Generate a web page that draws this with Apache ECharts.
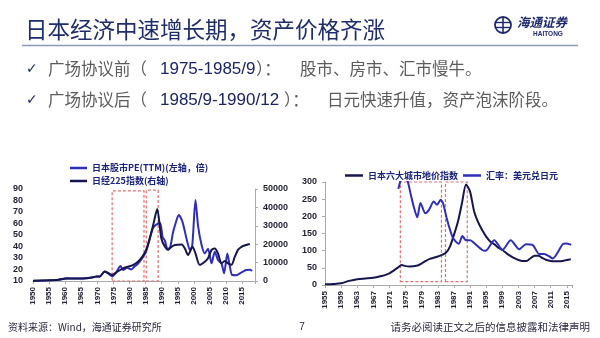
<!DOCTYPE html>
<html><head><meta charset="utf-8">
<script src="https://cdn.jsdelivr.net/npm/echarts@6/dist/echarts.min.js"></script>
<style>html,body{margin:0;padding:0;background:#fff}#c{width:600px;height:338px}</style>
</head><body><div id="c"></div>
<script>
// ---- texts ----
const titleText = '日本经济中速增长期，资产价格齐涨';
const bullet1 = ['广场协议前（', '1975-1985/9', '）：', '股市、房市、汇市慢牛。'];
const bullet2 = ['广场协议后（', '1985/9-1990/12', '）：', '日元快速升值，资产泡沫阶段。'];
const sourceText = '资料来源：Wind，海通证券研究所';
const pageNo = '7';
const disclaimer = '请务必阅读正文之后的信息披露和法律声明';

// ---- left chart: PE (left axis) and Nikkei 225 (right axis) ----
const leftNames = ['日本股市PE(TTM)(左轴，倍)', '日经225指数(右轴)'];
const peYears = [1950,1952,1955,1958,1960.4,1963.5,1966.6,1968.7,1969.7,1970.7,1972.3,1973.5,1974.6,1975.6,1977.2,1978,1979.3,1980.5,1981.5,1982.6,1984.1,1985.2,1986.2,1987.3,1988.3,1989.5,1990.3,1991,1991.8,1992.6,1993.5,1994.3,1995.3,1996.5,1997.7,1998.8,1999.5,2000.5,2001.3,2002.4,2003.4,2004.4,2005.5,2006.5,2007.5,2008.6,2009.4,2010.4,2011.1,2011.9,2013.2,2014.8,2016.3,2017.5,2018.1];
const peValues = [10,10.3,10.6,11.2,12.3,12.2,12.4,13.2,14,13.8,18.3,16.3,14.2,16.5,23,19.6,21.5,20,22.5,25,30.5,36,46,56,59,60.5,48,45,38,39,52,60,67.4,61,47,37,41,80.4,58,41.3,34,38,25.4,35.5,28.3,25,16.7,34,24,15.2,15,17.5,19.6,19.8,18.7];
const nkYears = [1950,1955,1958,1960.4,1963.5,1966.6,1968.7,1969.7,1970.7,1972.3,1973.5,1974.6,1975.8,1978,1979.5,1981,1982.6,1984.1,1985.2,1986.2,1987.3,1988.6,1989.9,1991,1992,1993,1994.1,1996.2,1997.2,1998.2,1999.6,2000.5,2001.8,2003.4,2004.4,2005.5,2006.5,2007.5,2008.6,2009.6,2010.6,2011.7,2012.7,2013.7,2014.8,2016.3,2017.4];
const nkValues = [150,400,700,1400,1350,1450,2000,2500,2400,5200,4200,3300,4600,6900,7800,8600,10400,13500,17000,22500,30000,39100,23100,18600,16900,18500,19600,19900,17700,14100,18600,15000,8800,10500,12300,16900,17700,15000,9600,10900,9600,8800,13100,16900,18600,19600,20100];
const leftBoxes = [[1974.6, 1984.5, 10, 88.3], [1985.2, 1988.9, 10, 89]];

// ---- right chart: land price index and USD/JPY ----
const rightNames = ['日本六大城市地价指数', '汇率：美元兑日元'];
const landYears = [1955,1957,1959,1961,1963,1965,1967,1969,1971,1973,1974,1975,1976,1978,1979,1980,1981,1983,1985,1986,1987,1988,1989,1990,1991,1992,1993,1994,1995,1996,1997,1998,1999,2000,2001,2002,2003,2004,2005,2006,2007,2008,2009,2010,2011,2012,2013,2014,2015,2016];
const landValues = [2,3,5,12,17,19,21,26,34,50,58,55,54,57,63,70,76,83,94,112,146,185,239,293,272,215,183,160,141,127,119,109,102,93,85,78,73,70,70,78,85,85,78,73,70,69,69,70,73,75];
const fxYears = [1973.2,1974,1974.8,1975.5,1976.2,1977,1977.9,1978.7,1979.9,1980.8,1982,1982.8,1983.7,1984.3,1985.3,1986.6,1987.4,1988.2,1989.1,1989.9,1991.2,1992,1994,1994.9,1997,1998.6,1999,2001.1,2003.2,2004.9,2006.5,2008.2,2009.4,2010.7,2011.5,2014,2014.8,2016.1];
const fxValues = [280,312,316,303,268,229,197,239,209,219,243,234,248,238,190,141,127,120,143,131,130,122,102,100,130,107,102,130,104,119,117,90,90,83,77,119,121,117];
const rightBoxes = [[1973.7, 1983.9, 10, 300], [1984.9, 1990.3, 10, 300]];

const zip = (xs, ys) => xs.map((x, i) => [x, ys[i]]);
const CJK = "'Noto Sans CJK SC'";
const NUM = "'Liberation Sans', Arial";
const DARK = '#16164e';
const BLUE = '#2e2eb8';
const NAVY = '#1f2d6b';
const boxStyle = {color: 'rgba(0,0,0,0)', borderColor: '#e07070', borderWidth: 1.2, borderType: [3, 2]};
const toAreas = boxes => boxes.map(b => [{xAxis: b[0], yAxis: b[2]}, {xAxis: b[1], yAxis: b[3]}]);

const axisLabelStyle = {color: '#1e1e30', fontFamily: NUM, fontWeight: 'bold'};
const plain = v => String(v);

const chart = echarts.init(document.getElementById('c'));
const g = [];
g.push({type: 'text', x: 25, y: 29, style: {text: titleText, font: `22.5px ${CJK}`, fill: NAVY, verticalAlign: 'middle'}});
g.push({type: 'line', shape: {x1: 22, y1: 45.5, x2: 578, y2: 45.5}, style: {stroke: '#8c9bb5', lineWidth: 1.5}});
// logo
g.push({type: 'circle', shape: {cx: 503, cy: 25, r: 8}, style: {fill: 'none', stroke: '#1e2a6e', lineWidth: 1.8}});
g.push({type: 'line', shape: {x1: 503, y1: 17, x2: 503, y2: 33}, style: {stroke: '#1e2a6e', lineWidth: 1.6}});
g.push({type: 'line', shape: {x1: 496, y1: 22.5, x2: 510, y2: 22.5}, style: {stroke: '#1e2a6e', lineWidth: 1.4}});
g.push({type: 'line', shape: {x1: 496, y1: 27.5, x2: 510, y2: 27.5}, style: {stroke: '#1e2a6e', lineWidth: 1.4}});
g.push({type: 'text', x: 517, y: 22.5, style: {text: '海通证券', font: `italic bold 12.5px ${CJK}`, fill: '#1e2a6e', verticalAlign: 'middle'}});
g.push({type: 'text', x: 548, y: 34.5, style: {text: 'HAITONG', font: `bold 6.5px ${NUM}`, fill: '#1e2a6e', align: 'center', verticalAlign: 'middle'}});
// bullets
[[bullet1, 69, [48, 160, 256, 300]], [bullet2, 100, [48, 160, 284, 327]]].forEach(([parts, y, xs]) => {
  g.push({type: 'text', x: 26, y: y, style: {text: '✓', font: "14px 'DejaVu Sans'", fill: NAVY, verticalAlign: 'middle'}});
  parts.forEach((p, i) => {
    const isNum = i === 1;
    g.push({type: 'text', x: xs[i], y: y, style: {text: p, font: isNum ? `17px ${NUM}` : `16.5px ${CJK}`, fill: isNum ? '#1c2466' : '#5c5c5c', verticalAlign: 'middle'}});
  });
});
// footer
g.push({type: 'text', x: 8, y: 327, style: {text: sourceText, font: `10px ${CJK}`, fill: '#2a2a40', verticalAlign: 'middle'}});
g.push({type: 'text', x: 302, y: 327, style: {text: pageNo, font: `10px ${NUM}`, fill: '#2a2a40', align: 'center', verticalAlign: 'middle'}});
g.push({type: 'text', x: 590, y: 327, style: {text: disclaimer, font: `10.5px ${CJK}`, fill: '#2a2a40', align: 'right', verticalAlign: 'middle'}});

chart.setOption({
  backgroundColor: '#fff',
  animation: false,
  graphic: g,
  legend: [
    {data: leftNames, orient: 'vertical', left: 65, top: 157, icon: 'rect', itemWidth: 17, itemHeight: 2.5, itemGap: 1,
     selectedMode: false, textStyle: {fontFamily: CJK, fontSize: 9, fontWeight: 'bold', color: '#1a237e', lineHeight: 12}},
    {data: rightNames, orient: 'horizontal', left: 340, top: 166, icon: 'rect', itemWidth: 18, itemHeight: 2.5, itemGap: 5,
     selectedMode: false, textStyle: {fontFamily: CJK, fontSize: 9, fontWeight: 'bold', color: '#1a237e'}}
  ],
  grid: [
    {left: 33, top: 189, width: 222, height: 92},
    {left: 325, top: 182, width: 247, height: 103}
  ],
  xAxis: [
    {gridIndex: 0, type: 'value', min: 1950, max: 2019, interval: 5,
     axisLine: {lineStyle: {color: '#aaa'}}, axisTick: {lineStyle: {color: '#aaa'}, length: 3}, splitLine: {show: false},
     axisLabel: Object.assign({rotate: 90, fontSize: 8, margin: 6, formatter: v => (v % 5 === 0 ? String(v) : '')}, axisLabelStyle)},
    {gridIndex: 1, type: 'value', min: 1955, max: 2016.3, interval: 4,
     axisLine: {lineStyle: {color: '#aaa'}}, axisTick: {lineStyle: {color: '#aaa'}, length: 3}, splitLine: {show: false},
     axisLabel: Object.assign({rotate: 90, fontSize: 8, margin: 6, formatter: v => ((v - 1955) % 4 === 0 ? String(v) : '')}, axisLabelStyle)}
  ],
  yAxis: [
    {gridIndex: 0, type: 'value', min: 10, max: 90, interval: 10, position: 'left',
     axisLine: {show: false}, axisTick: {show: false}, splitLine: {show: false},
     axisLabel: Object.assign({fontSize: 9, margin: 10, formatter: plain}, axisLabelStyle)},
    {gridIndex: 0, type: 'value', min: 0, max: 50000, interval: 10000, position: 'right',
     axisLine: {show: true, lineStyle: {color: '#aaa'}}, axisTick: {show: true, length: 3, lineStyle: {color: '#aaa'}}, splitLine: {show: false},
     axisLabel: Object.assign({fontSize: 9, margin: 8, formatter: plain}, axisLabelStyle)},
    {gridIndex: 1, type: 'value', min: 0, max: 300, interval: 50,
     axisLine: {show: true, lineStyle: {color: '#aaa'}}, axisTick: {show: true, length: 3, lineStyle: {color: '#aaa'}}, splitLine: {show: false},
     axisLabel: Object.assign({fontSize: 9, margin: 8, formatter: plain}, axisLabelStyle)}
  ],
  series: [
    {name: leftNames[0], type: 'line', xAxisIndex: 0, yAxisIndex: 0, data: zip(peYears, peValues),
     showSymbol: false, symbol: 'none', smooth: 0.25, lineStyle: {color: BLUE, width: 2}, itemStyle: {color: BLUE},
     markArea: {silent: true, itemStyle: boxStyle, data: toAreas(leftBoxes)}},
    {name: leftNames[1], type: 'line', xAxisIndex: 0, yAxisIndex: 1, data: zip(nkYears, nkValues),
     showSymbol: false, symbol: 'none', smooth: 0.25, lineStyle: {color: DARK, width: 2}, itemStyle: {color: DARK}},
    {name: rightNames[0], type: 'line', xAxisIndex: 1, yAxisIndex: 2, data: zip(landYears, landValues),
     showSymbol: false, symbol: 'none', smooth: 0.25, lineStyle: {color: DARK, width: 2}, itemStyle: {color: DARK}},
    {name: rightNames[1], type: 'line', xAxisIndex: 1, yAxisIndex: 2, data: zip(fxYears, fxValues),
     showSymbol: false, symbol: 'none', smooth: 0.25, lineStyle: {color: BLUE, width: 2}, itemStyle: {color: BLUE},
     markArea: {silent: true, itemStyle: boxStyle, data: toAreas(rightBoxes)}}
  ]
});
</script>
</body></html>
